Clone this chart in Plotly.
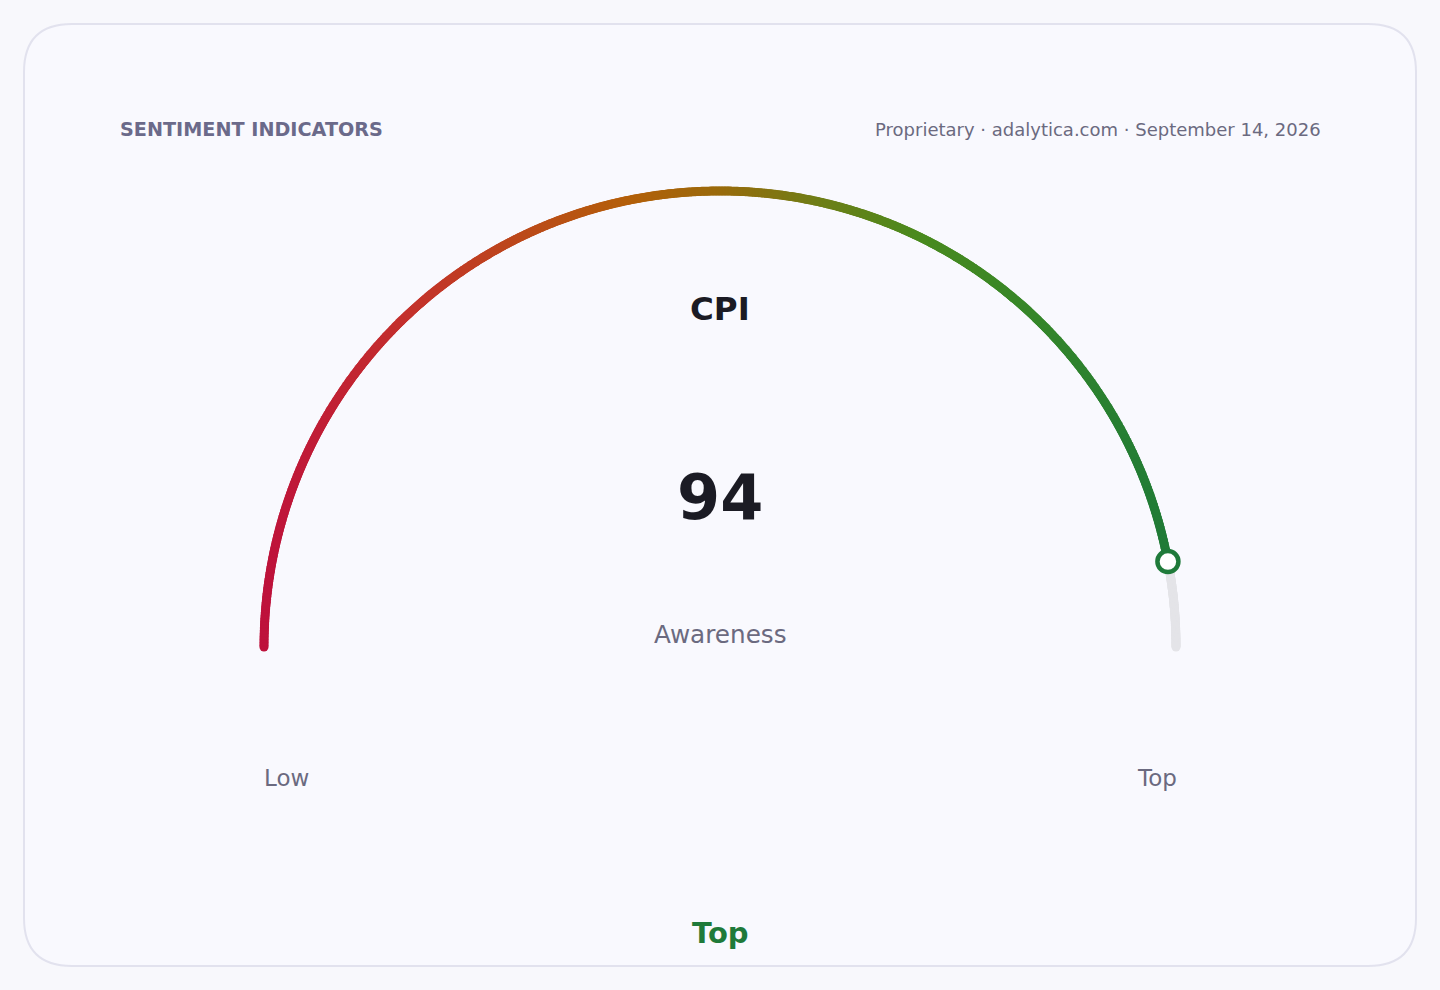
import numpy as np
import plotly.graph_objects as go

# gauge data
value = 94
vmin, vmax = 0, 100
metric = "CPI"
caption = "Awareness"
band = "Top"
end_labels = ["Low", "Top"]
title = "SENTIMENT INDICATORS"
source = "Proprietary · adalytica.com · September 14, 2026"

# colour stops along the arc (left -> right)
grad_pos = [0.0, 0.16, 0.4, 0.5, 0.61, 0.72, 0.85, 1.0]
grad_col = ["#be123c", "#c4312c", "#b45f0a", "#9a6a0c",
            "#6f7e17", "#4a8a1e", "#35862a", "#1f7a38"]

W, H = 1440, 990
CX, CY, R = 720, 647, 456  # gauge centre / radius in px


def hex2rgb(h):
    h = h.lstrip("#")
    return np.array([int(h[i:i + 2], 16) for i in (0, 2, 4)], dtype=float)


stops = np.array([hex2rgb(c) for c in grad_col])


def grad(u):
    rgb = [np.interp(u, grad_pos, stops[:, k]) for k in range(3)]
    return "rgb(%d,%d,%d)" % tuple(int(round(c)) for c in rgb)


frac = (value - vmin) / (vmax - vmin)

# filled part
t = np.linspace(0, frac, 900)
ang = np.pi * (1 - t)
xs, ys = np.cos(ang), np.sin(ang)
cols = [grad((x + 1) / 2) for x in xs]

# remaining track
t2 = np.linspace(frac, 1, 120)
ang2 = np.pi * (1 - t2)

fig = go.Figure()
fig.add_trace(go.Scatter(x=np.cos(ang2), y=np.sin(ang2), mode="markers",
                         marker=dict(size=9, color="#e4e4e8", line_width=0),
                         hoverinfo="skip", showlegend=False))
fig.add_trace(go.Scatter(x=xs, y=ys, mode="markers",
                         marker=dict(size=9, color=cols, line_width=0),
                         hoverinfo="skip", showlegend=False))
a = np.pi * (1 - frac)
fig.add_trace(go.Scatter(x=[np.cos(a)], y=[np.sin(a)], mode="markers",
                         marker=dict(size=21, color="white",
                                     line=dict(color="#1f7a3a", width=4.5)),
                         hovertemplate=f"{metric}: {value}<extra></extra>",
                         showlegend=False))

# card with rounded corners (paper coords)
x0, x1 = 24 / W, 1416 / W
y0, y1 = 1 - 966 / H, 1 - 24 / H
rx, ry = 48 / W, 48 / H
card = (f"M {x0 + rx},{y1} L {x1 - rx},{y1} Q {x1},{y1} {x1},{y1 - ry} "
        f"L {x1},{y0 + ry} Q {x1},{y0} {x1 - rx},{y0} "
        f"L {x0 + rx},{y0} Q {x0},{y0} {x0},{y0 + ry} "
        f"L {x0},{y1 - ry} Q {x0},{y1} {x0 + rx},{y1} Z")
fig.add_shape(type="path", path=card, xref="paper", yref="paper",
              line=dict(color="#e2e2ee", width=2), fillcolor="#f9f9fe",
              layer="below")

font = "DejaVu Sans"


def txt(s, px, py, size, color, bold=False, xanchor="center"):
    fig.add_annotation(x=px / W, y=1 - py / H, xref="paper", yref="paper",
                       text=f"<b>{s}</b>" if bold else s, showarrow=False,
                       xanchor=xanchor, yanchor="middle",
                       font=dict(family=font, size=size, color=color))


txt(title, 118, 130, 19.2, "#6b6a8a", bold=True, xanchor="left")
txt(source, 1323, 130, 18, "#6b6a80", xanchor="right")
txt(metric, 720, 309, 32.5, "#1b1b24", bold=True)
txt(str(value), 720, 497, 62, "#1b1b24", bold=True)
txt(caption, 720, 634, 24.7, "#6b6a80")
txt(end_labels[0], CX - R - 2, 778, 23, "#6b6a80", xanchor="left")
txt(end_labels[1], CX + R + 3, 778, 23, "#6b6a80", xanchor="right")
txt(band, 720, 933, 29, "#1f7a3a", bold=True)

fig.update_xaxes(range=[-CX / R, (W - CX) / R], visible=False, fixedrange=True)
fig.update_yaxes(range=[-(H - CY) / R, CY / R], visible=False, fixedrange=True)
fig.update_layout(width=W, height=H, margin=dict(l=0, r=0, t=0, b=0),
                  paper_bgcolor="#f8f8fc", plot_bgcolor="rgba(0,0,0,0)",
                  font=dict(family=font))

fig.write_html("out.html", config={"displayModeBar": False},
               post_script="document.body.style.margin='0';"
                           "document.body.style.background='#f8f8fc';")
